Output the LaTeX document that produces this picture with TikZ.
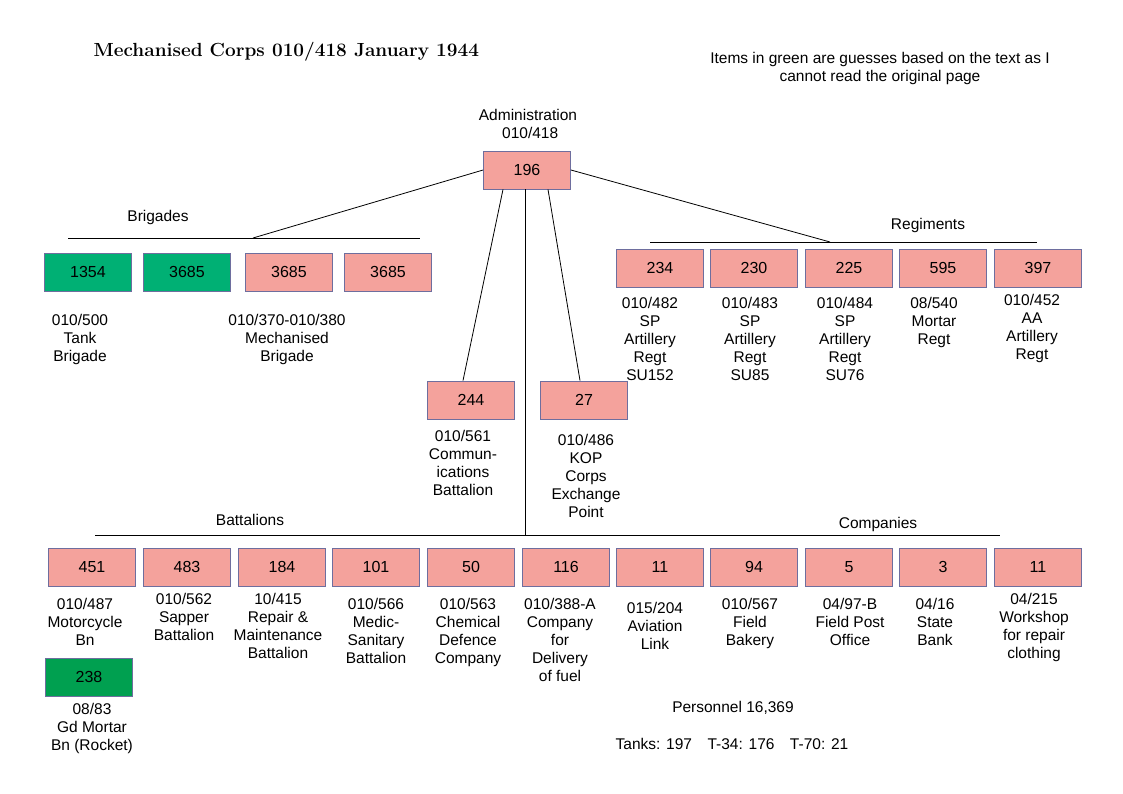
\documentclass[tikz,border=0pt]{standalone}
\usepackage{fontspec}
\setmainfont{Liberation Sans}
\newfontfamily\titlefont{Latin Modern Roman}
\definecolor{pinkf}{HTML}{F4A29C}
\definecolor{greenf}{HTML}{00B074}
\definecolor{greend}{HTML}{00A050}
\definecolor{edgec}{HTML}{6E6E9E}
\begin{document}
\begin{tikzpicture}[x=1pt,y=-1pt,
  bx/.style={draw=edgec,line width=0.8pt,fill=pinkf,minimum width=87pt,minimum height=38pt,inner sep=0pt,font=\fontsize{16}{18}\selectfont},
  gbx/.style={bx,fill=greenf},
  lbl/.style={align=center,font=\fontsize{15.5}{18}\selectfont,anchor=north},
  hd/.style={font=\fontsize{15.5}{18}\selectfont},
  ln/.style={line width=0.8pt}]
\useasboundingbox (0,0) rectangle (1123,794);
\node[font=\titlefont\fontsize{19}{22}\selectfont\bfseries,anchor=west] (title) at (90,52) {\textsc{Mechanised Corps 010/418 January 1944}};
\node[hd,align=center] (note) at (880,68) {Items in green are guesses based on the text as I\\cannot read the original page};
\node[hd,align=center] (admt) at (528,124) {Administration\\\ 010/418};
\node[bx] (adm) at (527,170) {196};
% brigades
\node[hd] (brh) at (158,217) {Brigades};
\coordinate (bl) at (68,238); \coordinate (br) at (420,238); \coordinate (bm) at (253,238);
\draw[ln] (bl) -- (br);
\draw[ln] (adm.west) -- (bm);
\node[gbx] (b1) at (88,272) {1354};
\node[gbx] (b2) at (187,272) {3685};
\node[bx] (b3) at (289,272) {3685};
\node[bx] (b4) at (388,272) {3685};
\node[lbl] (b1t) at (80,311) {010/500\\Tank\\Brigade};
\node[lbl] (b3t) at (287,311) {010/370-010/380\\Mechanised\\Brigade};
% regiments
\node[hd] (rgh) at (928,225) {Regiments};
\coordinate (rl) at (650,242); \coordinate (rr) at (1037,242); \coordinate (rm) at (830,242);
\draw[ln] (rl) -- (rr);
\draw[ln] (adm.east) -- (rm);
\node[bx] (r1) at (660,268) {234};
\node[bx] (r2) at (754,268) {230};
\node[bx] (r3) at (849,268) {225};
\node[bx] (r4) at (943,268) {595};
\node[bx] (r5) at (1038,268) {397};
\node[lbl] (r1t) at (650,294) {010/482\\SP\\Artillery\\Regt\\SU152};
\node[lbl] (r2t) at (750,294) {010/483\\SP\\Artillery\\Regt\\SU85};
\node[lbl] (r3t) at (845,294) {010/484\\SP\\Artillery\\Regt\\SU76};
\node[lbl] (r4t) at (934,294) {08/540\\Mortar\\Regt};
\node[lbl] (r5t) at (1032,291) {010/452\\AA\\Artillery\\Regt};
% middle
\node[bx] (m1) at (471,400) {244};
\node[bx] (m2) at (584,400) {27};
\draw[ln] ([xshift=-24pt]adm.south) -- ([xshift=-8pt]m1.north);
\draw[ln] ([xshift=21pt]adm.south) -- ([xshift=-4pt]m2.north);
\node[lbl] (m1t) at (463,427) {010/561\\Commun-\\ications\\Battalion};
\node[lbl] (m2t) at (586,431) {010/486\\KOP\\Corps\\Exchange\\Point};
% bottom
\coordinate (vb) at (525,535);
\draw[ln] ([xshift=-2pt]adm.south) -- (vb);
\node[hd] (bth) at (250,520) {Battalions};
\node[hd] (coh) at (878,524) {Companies};
\coordinate (ll) at (95,535); \coordinate (lr) at (1000,535);
\draw[ln] (ll) -- (lr);
\foreach \n/\x/\t in {c1/92/451,c2/187/483,c3/282/184,c4/376/101,c5/471/50,c6/566/116,c7/660/11,c8/754/94,c9/849/5,c10/943/3,c11/1038/11}
  \node[bx] (\n) at (\x,567) {\t};
\node[lbl] (c1t) at (85,595) {010/487\\Motorcycle\\Bn};
\node[lbl] (c2t) at (184,590) {010/562\\Sapper\\Battalion};
\node[lbl] (c3t) at (278,590) {10/415\\Repair \&\\Maintenance\\Battalion};
\node[lbl] (c4t) at (376,595) {010/566\\Medic-\\Sanitary\\Battalion};
\node[lbl] (c5t) at (468,595) {010/563\\Chemical\\Defence\\Company};
\node[lbl] (c6t) at (560,595) {010/388-A\\Company\\for\\Delivery\\of fuel};
\node[lbl] (c7t) at (655,599) {015/204\\Aviation\\Link};
\node[lbl] (c8t) at (750,595) {010/567\\Field\\Bakery};
\node[lbl] (c9t) at (850,595) {04/97-B\\Field Post\\Office};
\node[lbl] (c10t) at (935,595) {04/16\\State\\Bank};
\node[lbl] (c11t) at (1034,590) {04/215\\Workshop\\for repair\\clothing};
\node[bx,fill=greend] (g1) at (89,677) {238};
\node[lbl] (g1t) at (92,700) {08/83\\Gd Mortar\\Bn (Rocket)};
\node[hd] (pers) at (733,708) {Personnel 16,369};
\node[hd] (tanks) at (732,744) {Tanks: 197\quad T-34: 176\quad T-70: 21};
\end{tikzpicture}
\end{document}
